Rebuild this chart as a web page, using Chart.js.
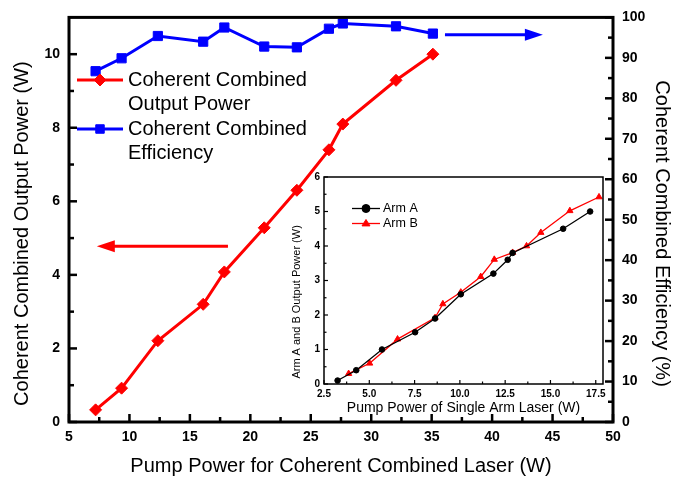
<!DOCTYPE html>
<html><head><meta charset="utf-8">
<script src="https://cdn.jsdelivr.net/npm/chart.js@4/dist/chart.umd.min.js"></script>
<style>
html,body{margin:0;padding:0;background:#fff;}
#wrap{position:relative;width:675px;height:481px;overflow:hidden;}
#main{position:absolute;left:0;top:0;width:675px;height:481px;}
#inset{position:absolute;left:270px;top:160px;width:345px;height:260px;}
</style></head><body>
<div id="wrap">
<canvas id="main" width="675" height="481"></canvas>
<canvas id="inset" width="345" height="260"></canvas>
</div>
<script>
// ---- main chart data ----
const pumpPower   = [7.2, 9.35, 12.35, 16.1, 17.85, 21.15, 23.85, 26.5, 27.65, 32.05, 35.1];
const outputPower = [0.33, 0.92, 2.21, 3.2, 4.08, 5.28, 6.3, 7.4, 8.1, 9.29, 10.0];
const efficiency  = [86.7, 89.9, 95.4, 94.0, 97.5, 92.8, 92.6, 97.2, 98.5, 97.8, 96.0];
const mainXTicks  = [5, 10, 15, 20, 25, 30, 35, 40, 45, 50];
const mainYTicks  = [0, 2, 4, 6, 8, 10];
const effTicks    = [0, 10, 20, 30, 40, 50, 60, 70, 80, 90, 100];

// ---- inset data ----
const armAPump  = [3.25, 4.28, 5.7, 7.53, 8.63, 10.05, 11.85, 12.64, 12.91, 15.7, 17.19];
const armAPower = [0.1, 0.4, 1.0, 1.5, 1.9, 2.6, 3.2, 3.6, 3.8, 4.5, 5.0];
const armBPump  = [3.86, 5.02, 6.56, 8.63, 9.06, 10.05, 11.15, 11.9, 12.91, 13.68, 14.47, 16.07, 17.68];
const armBPower = [0.3, 0.6, 1.3, 1.92, 2.32, 2.66, 3.11, 3.61, 3.81, 4.0, 4.39, 5.02, 5.42];
const insetXTicks = [2.5, 5, 7.5, 10, 12.5, 15, 17.5];
const insetYTicks = [0, 1, 2, 3, 4, 5, 6];

const FONT = "'Liberation Sans', Arial, sans-serif";
const RED = '#ff0000', BLUE = '#0000ff';

function pts(xs, ys) { return xs.map((x, i) => ({x: x, y: ys[i]})); }
function setTicks(vals) { return s => { s.ticks = vals.map(v => ({value: v})); }; }
function mids(vals) { const r = []; for (let i = 0; i < vals.length - 1; i++) r.push((vals[i] + vals[i+1]) / 2); return r; }

function drawMarker(ctx, style, x, y, r, color) {
  ctx.save();
  ctx.fillStyle = color; ctx.strokeStyle = color; ctx.lineWidth = 1;
  ctx.beginPath();
  if (style === 'rectRot') {
    ctx.moveTo(x, y - r); ctx.lineTo(x + r, y); ctx.lineTo(x, y + r); ctx.lineTo(x - r, y); ctx.closePath();
  } else if (style === 'rect') {
    const h = r * Math.SQRT1_2; ctx.rect(x - h, y - h, 2 * h, 2 * h);
  } else if (style === 'triangle') {
    const h = r * 1.5 / Math.sqrt(3) * Math.sqrt(3);
    ctx.moveTo(x, y - r); ctx.lineTo(x + r * 0.866 * 1.15, y + r * 0.6); ctx.lineTo(x - r * 0.866 * 1.15, y + r * 0.6); ctx.closePath();
  } else {
    ctx.arc(x, y, r, 0, Math.PI * 2);
  }
  ctx.fill(); ctx.stroke();
  ctx.restore();
}

// inward ticks + frame
const decorPlugin = {
  id: 'decor',
  beforeDatasetsDraw(chart, args, opts) {
    if (opts.fillArea) {
      const a = chart.chartArea, ctx = chart.ctx;
      ctx.save(); ctx.fillStyle = '#fff'; ctx.fillRect(a.left, a.top, a.right - a.left, a.bottom - a.top); ctx.restore();
    }
  },
  afterDraw(chart, args, opts) {
    const ctx = chart.ctx, a = chart.chartArea;
    ctx.save();
    ctx.strokeStyle = '#000';
    ctx.lineWidth = opts.tickWidth;
    ctx.lineCap = 'butt';
    (opts.axes || []).forEach(ax => {
      const sc = chart.scales[ax.id];
      const draw = (vals, len) => vals.forEach(v => {
        ctx.beginPath();
        if (ax.side === 'bottom') { const p = sc.getPixelForValue(v); ctx.moveTo(p, a.bottom); ctx.lineTo(p, a.bottom - len); }
        else if (ax.side === 'left') { const p = sc.getPixelForValue(v); ctx.moveTo(a.left, p); ctx.lineTo(a.left + len, p); }
        else { const p = sc.getPixelForValue(v); ctx.moveTo(a.right, p); ctx.lineTo(a.right - len, p); }
        ctx.stroke();
      });
      draw(ax.major, opts.majorLen);
      draw(ax.minor, opts.minorLen);
    });
    ctx.lineWidth = opts.frameWidth;
    ctx.strokeRect(a.left, a.top, a.right - a.left, a.bottom - a.top);
    ctx.restore();
  }
};

// legend drawn from dataset styles
const legendPlugin = {
  id: 'boxLegend',
  afterDraw(chart, args, opts) {
    const ctx = chart.ctx;
    ctx.save();
    ctx.font = opts.fontSize + 'px ' + FONT;
    ctx.fillStyle = '#000';
    ctx.textBaseline = 'middle';
    opts.items.forEach(it => {
      const ds = chart.data.datasets[it.dataset];
      ctx.strokeStyle = ds.borderColor;
      ctx.lineWidth = ds.borderWidth;
      ctx.beginPath(); ctx.moveTo(opts.x0, it.y); ctx.lineTo(opts.x1, it.y); ctx.stroke();
      drawMarker(ctx, ds.pointStyle, (opts.x0 + opts.x1) / 2, it.y, opts.markerR, ds.borderColor);
      ctx.fillStyle = '#000';
      const lines = String(ds.label).split('\n');
      lines.forEach((ln, i) => ctx.fillText(ln, opts.textX, it.y + i * opts.lineGap));
    });
    ctx.restore();
  }
};

// direction arrows
const arrowPlugin = {
  id: 'arrows',
  afterDatasetsDraw(chart, args, opts) {
    const ctx = chart.ctx;
    (opts.list || []).forEach(ar => {
      const xs = chart.scales.x, ys = chart.scales[ar.axis];
      const x0 = xs.getPixelForValue(ar.from), x1 = xs.getPixelForValue(ar.to), y = ys.getPixelForValue(ar.y);
      const dir = Math.sign(x1 - x0);
      ctx.save();
      ctx.strokeStyle = ar.color; ctx.fillStyle = ar.color; ctx.lineWidth = 3;
      ctx.beginPath(); ctx.moveTo(x0, y); ctx.lineTo(x1 - dir * 14, y); ctx.stroke();
      ctx.beginPath(); ctx.moveTo(x1, y); ctx.lineTo(x1 - dir * 18, y - 6); ctx.lineTo(x1 - dir * 18, y + 6); ctx.closePath(); ctx.fill();
      ctx.restore();
    });
  }
};

const mainChart = new Chart(document.getElementById('main'), {
  type: 'line',
  data: {
    datasets: [
      {label: 'Coherent Combined\nOutput Power', data: pts(pumpPower, outputPower), yAxisID: 'y',
       borderColor: RED, backgroundColor: RED, borderWidth: 3, pointStyle: 'rectRot', pointRadius: 6,
       pointBorderWidth: 1, tension: 0},
      {label: 'Coherent Combined\nEfficiency', data: pts(pumpPower, efficiency), yAxisID: 'y2',
       borderColor: BLUE, backgroundColor: BLUE, borderWidth: 3, pointStyle: 'rect', pointRadius: 6.5,
       pointBorderWidth: 1, tension: 0}
    ]
  },
  options: {
    responsive: false, animation: false, devicePixelRatio: 1,
    layout: {padding: {top: 15, left: 0, right: 0, bottom: 0}},
    plugins: {
      legend: {display: false}, tooltip: {enabled: false},
      decor: {tickWidth: 2.5, majorLen: 8, minorLen: 5, frameWidth: 3, axes: [
        {id: 'x', side: 'bottom', major: mainXTicks, minor: mids(mainXTicks)},
        {id: 'y', side: 'left', major: mainYTicks, minor: [1, 3, 5, 7, 9]},
        {id: 'y2', side: 'right', major: effTicks, minor: mids(effTicks)}
      ]},
      boxLegend: {x0: 77, x1: 123, textX: 128, fontSize: 20, lineGap: 24, markerR: 6,
        items: [{dataset: 0, y: 80}, {dataset: 1, y: 129}]},
      arrows: {list: [
        {axis: 'y', y: 4.78, from: 18.15, to: 7.3, color: RED},
        {axis: 'y2', y: 95.7, from: 36.1, to: 44.2, color: BLUE}
      ]}
    },
    scales: {
      x: {type: 'linear', position: 'bottom', min: 5, max: 50,
        afterBuildTicks: setTicks(mainXTicks), afterFit: s => { s.height = 59; },
        grid: {display: false, drawTicks: false}, border: {display: false},
        ticks: {color: '#000', padding: 7, maxRotation: 0, autoSkip: false, font: {family: FONT, size: 14, weight: 'bold'}},
        title: {display: true, text: 'Pump Power for Coherent Combined Laser (W)', color: '#000',
          font: {family: FONT, size: 20}, padding: {top: 0, bottom: 3}}},
      y: {type: 'linear', position: 'left', min: 0, max: 11,
        afterBuildTicks: setTicks(mainYTicks), afterFit: s => { s.width = 69; },
        grid: {display: false, drawTicks: false}, border: {display: false},
        ticks: {color: '#000', padding: 9, font: {family: FONT, size: 14, weight: 'bold'}},
        title: {display: true, text: 'Coherent Combined Output Power (W)' + '     ', color: '#000',
          font: {family: FONT, size: 20}, padding: {top: 10.5, bottom: 0}}},
      y2: {type: 'linear', position: 'right', min: 0, max: 100,
        afterBuildTicks: setTicks(effTicks), afterFit: s => { s.width = 62; },
        grid: {display: false, drawTicks: false}, border: {display: false},
        ticks: {color: '#000', padding: 9, font: {family: FONT, size: 14, weight: 'bold'}},
        title: {display: true, text: '     ' + 'Coherent Combined Efficiency (%)', color: '#000',
          font: {family: FONT, size: 20}, padding: {top: 1, bottom: 0}}}
    }
  },
  plugins: [decorPlugin, legendPlugin, arrowPlugin]
});

const insetChart = new Chart(document.getElementById('inset'), {
  type: 'line',
  data: {
    datasets: [
      {label: 'Arm A', data: pts(armAPump, armAPower), borderColor: '#000', backgroundColor: '#000',
       borderWidth: 1.3, pointStyle: 'circle', pointRadius: 2.8, pointBorderWidth: 1, tension: 0},
      {label: 'Arm B', data: pts(armBPump, armBPower), borderColor: RED, backgroundColor: RED,
       borderWidth: 1.3, pointStyle: 'triangle', pointRadius: 3.6, pointBorderWidth: 1, tension: 0}
    ]
  },
  options: {
    responsive: false, animation: false, devicePixelRatio: 1,
    layout: {padding: {top: 17, left: 0, right: 12, bottom: 0}},
    plugins: {
      legend: {display: false}, tooltip: {enabled: false},
      decor: {fillArea: true, tickWidth: 1.2, majorLen: 4, minorLen: 2.5, frameWidth: 1.5, axes: [
        {id: 'x', side: 'bottom', major: insetXTicks, minor: mids(insetXTicks)},
        {id: 'y', side: 'left', major: insetYTicks, minor: mids(insetYTicks)}
      ]},
      boxLegend: {x0: 82, x1: 110, textX: 113, fontSize: 12.5, lineGap: 15, markerR: 4,
        items: [{dataset: 0, y: 48.5}, {dataset: 1, y: 63.5}]}
    },
    scales: {
      x: {type: 'linear', position: 'bottom', min: 2.5, max: 17.9,
        afterBuildTicks: setTicks(insetXTicks), afterFit: s => { s.height = 36; },
        grid: {display: false, drawTicks: false}, border: {display: false},
        ticks: {color: '#000', padding: 4, maxRotation: 0, autoSkip: false,
          callback: v => Number(v).toFixed(1), font: {family: FONT, size: 10, weight: 'bold'}},
        title: {display: true, text: 'Pump Power of Single Arm Laser (W)', color: '#000',
          font: {family: FONT, size: 14}, padding: {top: 0, bottom: 3.5}}},
      y: {type: 'linear', position: 'left', min: 0, max: 6,
        afterBuildTicks: setTicks(insetYTicks), afterFit: s => { s.width = 54; },
        grid: {display: false, drawTicks: false}, border: {display: false},
        ticks: {color: '#000', padding: 4, font: {family: FONT, size: 10, weight: 'bold'}},
        title: {display: true, text: 'Arm A and B Output Power (W)' + '              ', color: '#000',
          font: {family: FONT, size: 11}, padding: {top: 20.4, bottom: 0}}}
    }
  },
  plugins: [decorPlugin, legendPlugin]
});
</script>
</body></html>
